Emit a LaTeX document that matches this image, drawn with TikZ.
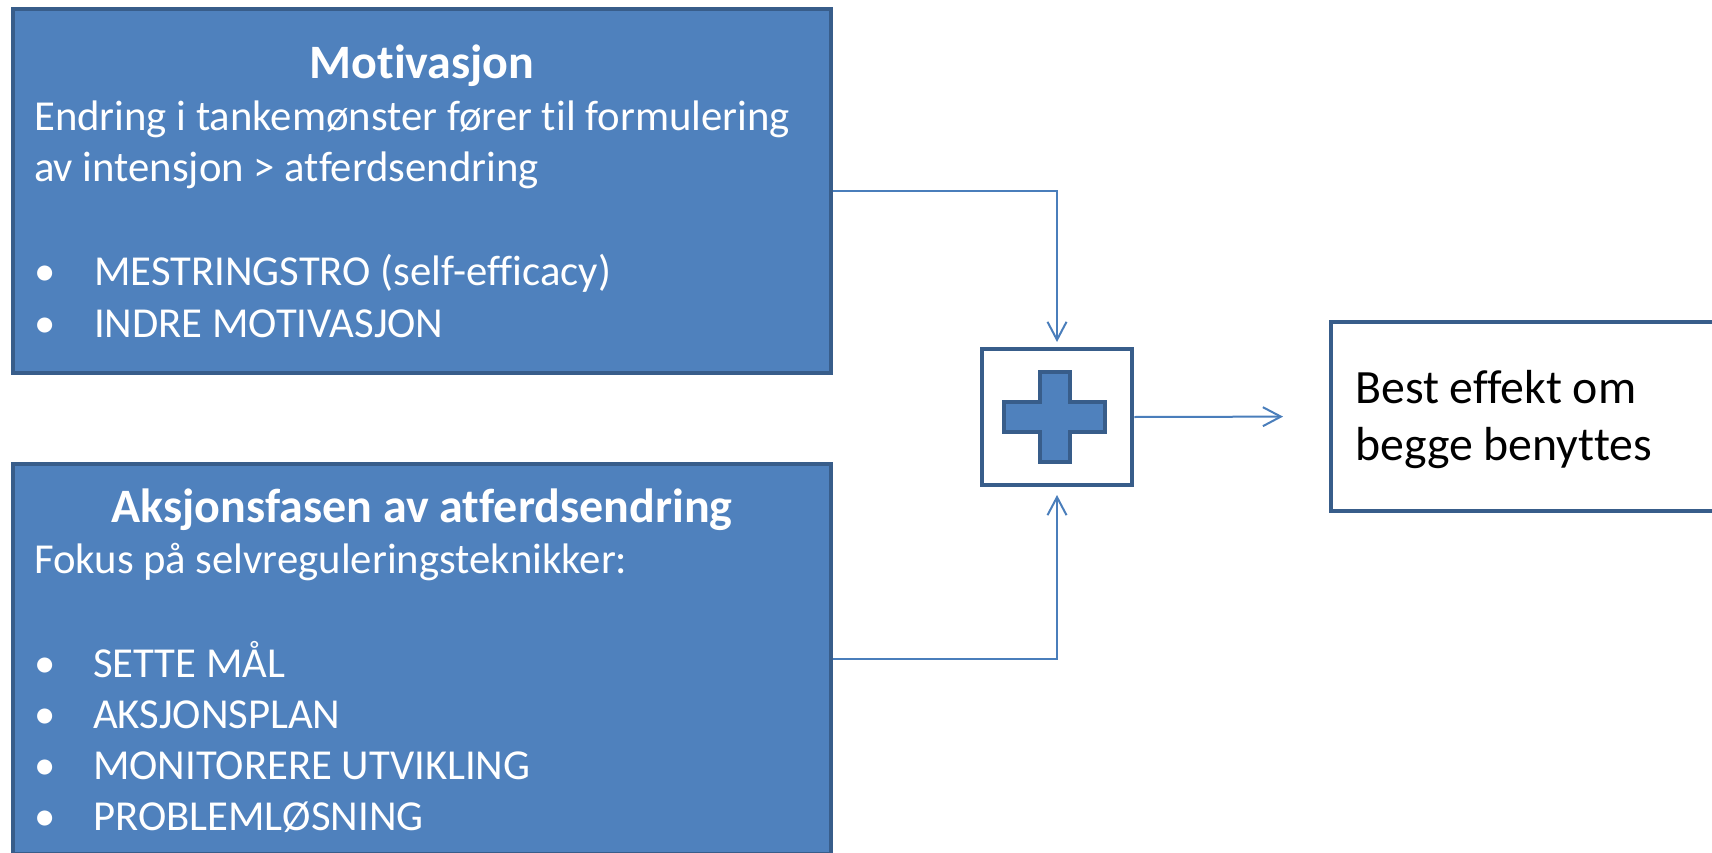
\documentclass[tikz,border=0pt]{standalone}
\usepackage{fontspec}
\setmainfont{Carlito}[Ligatures=NoCommon]
\usetikzlibrary{arrows.meta}
\definecolor{boxfill}{HTML}{4F81BD}
\definecolor{boxline}{HTML}{385D8A}
\definecolor{linkblue}{HTML}{4A7EBB}

\begin{document}
\begin{tikzpicture}[x=1pt,y=-1pt,
  bluebox/.style={draw=boxline, line width=4.5pt, fill=boxfill, inner sep=0pt},
  whitebox/.style={draw=boxline, line width=4.5pt, fill=white, inner sep=0pt},
  bodytext/.style={text=white, font=\fontsize{42.7}{50}\selectfont, inner sep=0pt, anchor=base west},
  headtext/.style={text=white, font=\fontsize{48}{56}\selectfont\bfseries, inner sep=0pt, anchor=base},
  resulttext/.style={text=black, font=\fontsize{47.8}{56}\selectfont, inner sep=0pt, anchor=base west},
  crossmark/.style={draw=boxline, line width=3.5pt, fill=boxfill, line join=miter},
  link/.style={draw=linkblue, line width=2pt, -{Straight Barb[length=18pt,width=19pt,line width=2pt]}}
]
\useasboundingbox (0,0) rectangle (1712,853);
\clip (0,0) rectangle (1712,853);

% boxes
\node[bluebox, minimum width=818pt, minimum height=364pt] (mot) at (422,191) {};
\node[bluebox, minimum width=818pt, minimum height=390pt] (act) at (422,659) {};
\node[whitebox, minimum width=150pt, minimum height=136pt] (plus) at (1057,417) {};
\node[whitebox, minimum width=409pt, minimum height=189pt] (result) at (1535.5,416.5) {};

% plus sign
\draw[crossmark] (1040,372) -- (1070,372) -- (1070,402) -- (1105,402) -- (1105,432)
  -- (1070,432) -- (1070,462) -- (1040,462) -- (1040,432) -- (1004,432) -- (1004,402)
  -- (1040,402) -- cycle;

% motivation box text
\node[headtext] (motT) at (422,79) {Motivasjon};
\node[bodytext] (motL1) at (34,131) {Endring i tankemønster fører til formulering};
\node[bodytext] (motL2) at (34,182) {av intensjon > atferdsendring};
\node[bodytext] (motB1) at (34,285) {•};
\node[bodytext] (motI1) at (94,285) {MESTRINGSTRO (self-efficacy)};
\node[bodytext] (motB2) at (34,337) {•};
\node[bodytext] (motI2) at (94,337) {INDRE MOTIVASJON};

% action box text
\node[headtext] (actT) at (422,522) {Aksjonsfasen av atferdsendring};
\node[bodytext] (actL1) at (34,573) {Fokus på selvreguleringsteknikker:};
\node[bodytext] (actB1) at (34,677) {•};
\node[bodytext] (actI1) at (93,677) {SETTE MÅL};
\node[bodytext] (actB2) at (34,728) {•};
\node[bodytext] (actI2) at (93,728) {AKSJONSPLAN};
\node[bodytext] (actB3) at (34,779) {•};
\node[bodytext] (actI3) at (93,779) {MONITORERE UTVIKLING};
\node[bodytext] (actB4) at (34,830) {•};
\node[bodytext] (actI4) at (93,830) {PROBLEMLØSNING};

% result text
\node[resulttext] (res1) at (1355,403) {Best effekt om};
\node[resulttext] (res2) at (1355,460) {begge benyttes};

% connectors
\draw[link, shorten >=4.75pt] (mot.east) -| (plus.north);
\draw[link, shorten >=7.75pt] (act.east) -| (plus.south);
\draw[link, shorten >=45.75pt] (plus.east) -- (result.west);
\end{tikzpicture}
\end{document}
